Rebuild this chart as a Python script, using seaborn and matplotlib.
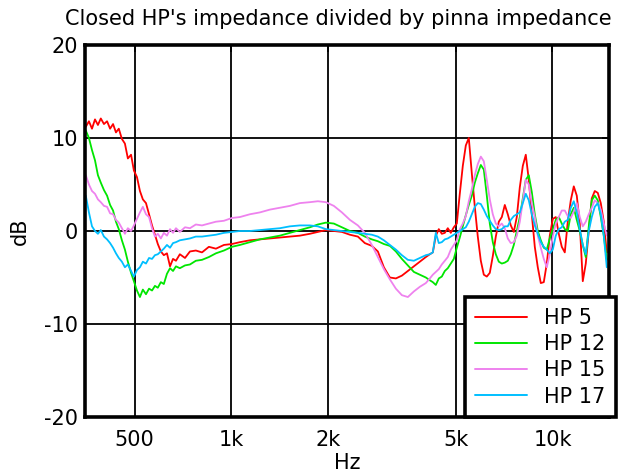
import numpy as np
import pandas as pd
import matplotlib
matplotlib.use("Agg")
import matplotlib.pyplot as plt
import seaborn as sns

# ---------------- data ----------------
freq_hz = [352, 360, 368, 376, 384, 392, 401, 410, 419, 428, 437, 446, 456, 466, 476, 487,
           497, 508, 519, 530, 542, 554, 566, 578, 590, 603, 616, 630, 644, 658, 672,
           691, 717, 743, 775, 810, 851, 895, 948, 1004,
           1063, 1142, 1227, 1318, 1416, 1521, 1634, 1756, 1859, 1969, 2085, 2209, 2339,
           2477, 2604, 2738, 2859, 2985, 3116, 3253, 3396, 3545, 3701, 3863, 4033, 4150,
           4240, 4332, 4426, 4522, 4621, 4721, 4824, 4929, 5036, 5145, 5257, 5372, 5488,
           5608, 5730, 5854, 5982, 6112, 6245, 6380, 6519, 6661, 6806, 6954, 7105, 7259,
           7417, 7579, 7743, 7912, 8084, 8259, 8439, 8622, 8810, 9001, 9197, 9397, 9602,
           9810, 10024, 10241, 10464, 10691, 10924, 11161, 11405, 11652, 11905, 12164,
           12429, 12699, 12975, 13257, 13545, 13840, 14142, 14449, 14763]

hp5 = [11.2, 11.8, 11.0, 12.0, 11.4, 12.1, 11.5, 11.8, 11.0, 11.5, 10.6, 11.0, 9.9, 9.4, 7.8, 8.2,
       6.5, 5.8, 4.3, 3.4, 3.0, 1.8, 0.6, -0.4, -1.4, -2.2, -2.6, -2.4, -3.8, -3.0, -3.2,
       -2.5, -2.9, -2.2, -2.1, -2.3, -1.7, -1.9, -1.5, -1.4,
       -1.2, -1.0, -0.9, -0.8, -0.7, -0.6, -0.5, -0.3, -0.1, 0.1, 0.0, -0.1, -0.4,
       -0.6, -1.3, -1.6, -2.2, -3.9, -5.0, -5.1, -4.8, -4.3, -3.8, -3.3, -2.8, -2.5,
       -2.3, -0.5, 0.2, -0.3, -0.2, 0.3, -0.2, 0.4, 0.8, 4.0, 7.0, 9.2, 10.0,
       6.2, 2.6, -0.6, -3.2, -4.7, -4.9, -4.5, -2.7, -0.6, 1.0, 1.5, 2.8, 1.8,
       0.6, -0.1, 1.5, 4.7, 7.0, 8.2, 5.5, 1.8, -1.7, -3.9, -5.6, -5.5, -3.5,
       -0.5, 1.3, 1.5, -0.3, -1.7, -2.3, 1.0, 3.3, 4.8, 3.8, 0.8,
       -5.4, -3.5, 0.0, 3.5, 4.3, 4.1, 3.0, 1.0, -2.3]

hp12 = [10.8, 10.0, 8.7, 7.6, 6.0, 5.2, 4.4, 3.8, 2.8, 2.2, 1.0, 0.2, -1.0, -2.0, -3.3, -4.5,
        -5.4, -6.4, -7.1, -6.3, -6.8, -6.2, -6.4, -5.9, -6.1, -5.5, -5.7, -4.6, -4.0, -4.3, -3.8,
        -4.0, -3.7, -3.6, -3.2, -3.1, -2.8, -2.4, -2.1, -1.7,
        -1.5, -1.2, -0.9, -0.7, -0.5, -0.2, 0.1, 0.4, 0.7, 0.9, 0.8, 0.4, 0.0,
        -0.2, -0.6, -0.9, -1.1, -1.4, -1.6, -2.2, -3.0, -3.7, -4.4, -4.7, -5.0, -5.3,
        -5.5, -5.8, -5.1, -4.9, -4.3, -4.0, -3.5, -3.0, -1.8, -0.7, 0.5, 1.7, 2.8,
        3.8, 5.2, 6.2, 7.1, 6.6, 3.8, 0.8, -1.2, -2.5, -3.3, -3.5, -3.4, -3.2,
        -2.5, -1.5, 0.0, 1.5, 3.5, 5.5, 6.0, 4.2, 1.8, 0.0, -1.0, -1.8, -2.0,
        -0.8, 0.2, 1.2, 1.5, 0.8, 0.2, 0.0, 1.8, 2.5, 1.2, 0.0,
        -1.5, -2.8, 0.5, 3.3, 3.8, 3.3, 1.5, -0.5, -3.1]

hp15 = [6.0, 5.0, 4.3, 4.0, 3.4, 3.1, 2.7, 2.6, 1.9, 1.8, 1.2, 0.9, 0.3, -0.3, 0.3, 0.0,
        0.6, 1.3, 2.0, 2.6, 1.8, 1.5, 0.3, -0.6, -0.3, -0.8, -0.2, -0.5, 0.2, -0.2, 0.3,
        -0.1, 0.4, 0.3, 0.7, 0.6, 0.8, 1.0, 1.1, 1.4,
        1.5, 1.8, 2.0, 2.3, 2.5, 2.7, 3.0, 3.1, 3.2, 3.1, 2.7, 2.0, 1.2,
        0.6, -0.2, -1.5, -2.8, -4.1, -5.2, -6.2, -6.9, -7.1, -6.5, -6.0, -5.6, -5.1,
        -4.7, -4.4, -4.1, -3.6, -3.2, -2.8, -2.0, -1.5, -1.0, 0.2, 0.8, 1.6, 3.2,
        4.5, 6.0, 7.2, 8.0, 7.5, 5.5, 3.4, 1.8, 0.8, 0.5, 0.8, 0.3, -0.8,
        -1.3, -1.2, -0.5, 1.0, 3.2, 5.5, 5.0, 3.0, 1.5, -0.5, -1.8, -3.0, -3.9,
        -2.5, -0.6, 0.8, 1.5, 2.2, 2.2, 1.6, 1.4, 2.1, 3.0, 1.5,
        0.5, 1.0, 1.8, 2.5, 3.3, 3.0, 2.3, 0.8, -0.5]

hp17 = [3.8, 2.0, 0.5, 0.0, -0.3, 0.1, -0.6, -0.9, -1.3, -1.8, -2.4, -2.9, -3.3, -3.9, -3.6, -4.3,
        -4.9, -4.2, -3.9, -3.3, -3.5, -2.9, -3.0, -2.6, -2.5, -2.2, -1.9, -1.5, -1.8, -1.3, -1.2,
        -1.0, -0.9, -0.8, -0.6, -0.6, -0.5, -0.4, -0.2, -0.1,
        0.0, 0.0, 0.1, 0.2, 0.3, 0.5, 0.6, 0.6, 0.5, 0.2, 0.1, 0.0, -0.1,
        -0.2, -0.3, -0.4, -0.6, -1.0, -1.5, -2.0, -2.6, -3.1, -3.2, -2.9, -2.6, -2.5,
        -2.3, -0.2, -1.3, -1.2, -0.9, -0.8, -0.6, -0.4, -0.2, 0.0, 0.2, 0.4, 1.0,
        1.8, 2.6, 3.0, 2.9, 2.3, 1.6, 1.1, 0.6, 0.2, 0.1, 0.2, 0.5, 0.5,
        1.2, 1.6, 1.8, 2.0, 3.0, 4.0, 3.3, 1.8, 0.6, -0.3, -1.2, -1.7, -2.0,
        -2.4, -2.0, -0.5, 0.2, 0.4, 1.0, 1.2, 2.5, 3.2, 2.0, 0.2,
        -1.5, -2.5, 0.0, 1.5, 2.6, 3.0, 1.8, -0.5, -3.9]

series_names = ["HP 5", "HP 12", "HP 15", "HP 17"]
series_colors = ["#ff0000", "#00e600", "#ee82ee", "#00bfff"]
x_ticks = [500, 1000, 2000, 5000, 10000]
x_tick_labels = ["500", "1k", "2k", "5k", "10k"]
y_ticks = [-20, -10, 0, 10, 20]
title_text = "Closed HP's impedance divided by pinna impedance"

# ---------------- plot ----------------
sns.set_style("white")
plt.rcParams['font.family'] = ['DejaVu Sans']
plt.rcParams['axes.unicode_minus'] = False
for key in ["text.color", "axes.labelcolor", "xtick.color", "ytick.color"]:
    plt.rcParams[key] = "black"

df = pd.concat([
    pd.DataFrame({"Hz": freq_hz, "dB": vals, "series": name})
    for name, vals in zip(series_names, [hp5, hp12, hp15, hp17])
], ignore_index=True)

W, H = 627, 475
fig = plt.figure(figsize=(W / 100, H / 100), dpi=100)
ax = fig.add_axes([85 / W, 58 / H, 524 / W, 372 / H])

sns.lineplot(data=df, x="Hz", y="dB", hue="series", palette=series_colors,
             hue_order=series_names, estimator=None, sort=False, linewidth=1.3,
             ax=ax, legend=True)

ax.set_xscale("log")
ax.set_xlim(350, 15000)
ax.set_ylim(-20, 20)
ax.set_xticks(x_ticks)
ax.set_xticklabels(x_tick_labels)
ax.xaxis.set_minor_locator(matplotlib.ticker.NullLocator())
ax.set_yticks(y_ticks)
ax.grid(True, color="black", linewidth=1.3)
ax.set_axisbelow(True)
for s in ax.spines.values():
    s.set_color("black")
    s.set_linewidth(2.6)
fs = 15
ax.tick_params(axis="both", direction="in", length=5, width=1.3, color="black",
               labelsize=fs, top=True, right=True)
ax.tick_params(axis="x", pad=9)
ax.tick_params(axis="y", pad=5)
ax.set_xlabel("Hz", fontsize=fs)
ax.set_ylabel("dB", fontsize=fs)
ax.xaxis.label.set_va("center")
ax.yaxis.label.set_va("center")
ax.xaxis.set_label_coords(0.5, (417 - 463) / 372)
ax.yaxis.set_label_coords((20 - 85) / 524, 0.5)

fig.text(338 / W, 1 - 19 / H, title_text, ha="center", va="center", fontsize=fs)

leg = ax.legend(loc="lower right", bbox_to_anchor=(1.013, 0.0), fontsize=fs,
                frameon=True, fancybox=False, framealpha=1, edgecolor="black",
                handlelength=2.5, handletextpad=0.8, labelspacing=0.3,
                borderpad=0.5, borderaxespad=0.0)
leg.get_frame().set_linewidth(2.6)
for line in leg.get_lines():
    line.set_linewidth(1.4)

fig.savefig("out.png", dpi=100)
